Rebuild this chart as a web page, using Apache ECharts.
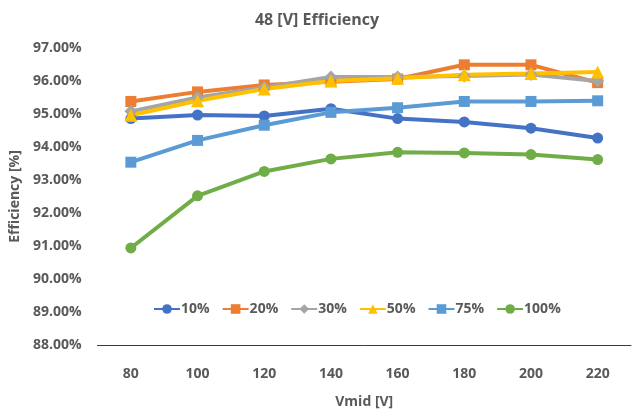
<!DOCTYPE html>
<html>
<head>
<meta charset="utf-8">
<script src="https://cdn.jsdelivr.net/npm/echarts@6/dist/echarts.min.js"></script>
<style>
  html, body { margin: 0; padding: 0; background: #fff; }
  #chart { width: 634px; height: 414px; }
</style>
</head>
<body>
<div id="chart"></div>
<script>
// Converter efficiency at 48 V output versus mid-bus voltage, per load level
const vmid = ['80', '100', '120', '140', '160', '180', '200', '220'];
const load10 = [94.86, 94.97, 94.94, 95.16, 94.86, 94.76, 94.57, 94.27];
const load20 = [95.38, 95.67, 95.88, 95.98, 96.06, 96.49, 96.49, 95.95];
const load30 = [95.08, 95.50, 95.80, 96.12, 96.12, 96.15, 96.20, 96.00];
const load50 = [94.96, 95.40, 95.76, 96.00, 96.08, 96.19, 96.23, 96.27];
const load75 = [93.54, 94.20, 94.66, 95.05, 95.19, 95.38, 95.38, 95.40];
const load100 = [90.94, 92.52, 93.26, 93.64, 93.84, 93.82, 93.77, 93.62];
const yTicks = { min: 88, max: 97, step: 1 };

const FONT = '"Open Sans", sans-serif';
const GREY = '#595959';

function lineSeries(name, data, color, symbol, size) {
  return {
    name: name,
    type: 'line',
    data: data,
    symbol: symbol,
    symbolSize: size,
    lineStyle: { color: color, width: 4 },
    itemStyle: { color: color },
    emphasis: { disabled: true }
  };
}

const chart = echarts.init(document.getElementById('chart'), null, { renderer: 'canvas' });
chart.setOption({
  animation: false,
  backgroundColor: '#ffffff',
  title: {
    text: '48 [V] Efficiency',
    left: 'center',
    top: 7,
    textStyle: { fontFamily: FONT, fontSize: 16, fontWeight: 'bold', color: GREY }
  },
  legend: {
    top: 297,
    left: 148,
    itemGap: 12,
    itemWidth: 26,
    itemHeight: 12,
    textStyle: { fontFamily: FONT, fontSize: 14, fontWeight: 'bold', color: GREY, padding: [0, 0, 0, -4] },
    data: ['10%', '20%', '30%', '50%', '75%', '100%']
  },
  grid: { left: 96, right: 3, top: 48, bottom: 63, containLabel: false },
  xAxis: {
    type: 'category',
    data: vmid,
    boundaryGap: true,
    name: 'Vmid [V]',
    nameLocation: 'middle',
    nameGap: 50,
    nameTextStyle: { fontFamily: FONT, fontSize: 14, fontWeight: 'bold', color: GREY },
    axisLine: { lineStyle: { color: '#3a3a3a', width: 1 } },
    axisTick: { show: false },
    axisLabel: { fontFamily: FONT, fontSize: 14, fontWeight: 'bold', color: GREY, margin: 22 },
    splitLine: { show: false }
  },
  yAxis: {
    type: 'value',
    min: yTicks.min,
    max: yTicks.max,
    interval: yTicks.step,
    name: 'Efficiency [%]',
    nameLocation: 'middle',
    nameGap: 64,
    nameTextStyle: { fontFamily: FONT, fontSize: 14, fontWeight: 'bold', color: GREY },
    axisLine: { show: false },
    axisTick: { show: false },
    splitLine: { show: false },
    axisLabel: {
      fontFamily: FONT, fontSize: 14, fontWeight: 'bold', color: GREY, margin: 16,
      formatter: v => v.toFixed(2) + '%'
    }
  },
  series: [
    lineSeries('10%', load10, '#4472C4', 'circle', 11),
    lineSeries('20%', load20, '#ED7D31', 'rect', 11),
    lineSeries('30%', load30, '#A5A5A5', 'diamond', 13),
    lineSeries('50%', load50, '#FFC000', 'triangle', 13),
    lineSeries('75%', load75, '#5B9BD5', 'rect', 11),
    lineSeries('100%', load100, '#70AD47', 'circle', 11)
  ]
});
</script>
</body>
</html>
